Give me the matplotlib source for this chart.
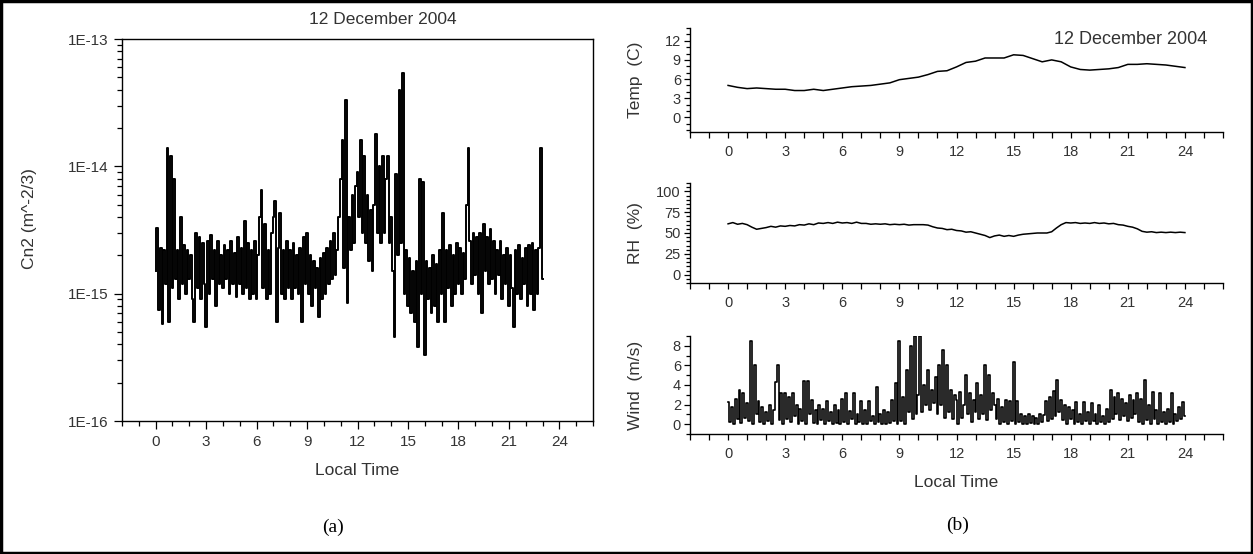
import matplotlib
matplotlib.use("Agg")
import matplotlib.pyplot as plt
import numpy as np
from matplotlib.ticker import MultipleLocator, FixedLocator, NullFormatter
from matplotlib.patches import Rectangle

plt.rcParams['font.family'] = ['Liberation Sans', 'DejaVu Sans']

# Cn2 (units of 1e-15 m^-2/3), every 0.1 h from 0 to 23 h
cn2 = [
    1.5, 3.3, 0.75, 2.3, 0.58, 2.2, 1.2, 14, 0.6, 12,
    1.1, 8.0, 1.3, 2.2, 0.9, 4.0, 1.2, 2.4, 1.0, 2.2,
    1.3, 2.0, 0.9, 0.6, 3.0, 1.1, 2.8, 0.9, 2.5, 1.2,
    0.55, 2.6, 1.0, 2.9, 1.3, 2.2, 0.8, 2.6, 1.2, 2.0,
    1.1, 2.4, 1.3, 2.2, 1.0, 2.6, 1.2, 2.1, 0.95, 2.8,
    1.2, 2.3, 1.0, 3.7, 1.1, 2.5, 0.9, 2.2, 1.0, 2.6,
    0.9, 2.0, 4.0, 6.5, 1.1, 3.5, 0.9, 2.2, 1.0, 3.0,
    4.0, 5.3, 0.6, 2.3, 4.3, 1.0, 2.2, 0.9, 2.6, 1.1,
    2.2, 0.9, 2.5, 1.1, 2.0, 1.0, 2.3, 0.6, 2.8, 1.2,
    3.0, 1.0, 2.0, 0.8, 1.8, 1.1, 1.6, 0.65, 1.9, 0.9,
    2.1, 1.0, 2.3, 1.2, 2.6, 1.3, 3.0, 1.4, 2.2, 4.0,
    8.0, 16, 1.6, 33, 0.85, 4.0, 2.2, 6.0, 2.5, 7.0,
    9.0, 4.0, 16, 3.0, 12, 2.5, 6.0, 1.8, 4.5, 1.5,
    5.0, 18, 3.0, 10, 2.5, 12, 3.0, 8.0, 12, 2.5,
    4.0, 1.5, 0.46, 8.7, 2.0, 40, 2.5, 54, 1.0, 2.2,
    0.8, 1.9, 0.7, 1.5, 0.6, 1.8, 0.38, 8.0, 1.0, 7.5,
    0.33, 1.8, 0.9, 1.6, 0.7, 2.0, 0.8, 1.7, 0.6, 2.2,
    1.0, 4.3, 0.6, 2.2, 1.1, 2.4, 0.8, 2.0, 1.0, 2.5,
    1.2, 2.3, 1.0, 2.1, 1.3, 5.0, 14, 2.6, 1.2, 3.0,
    1.4, 2.8, 1.0, 3.0, 0.7, 3.5, 1.5, 2.8, 1.2, 3.2,
    1.3, 2.6, 1.0, 2.2, 1.4, 2.6, 0.9, 2.0, 1.2, 2.3,
    0.8, 2.0, 1.1, 0.55, 2.2, 1.0, 2.4, 0.9, 1.9, 1.2,
    2.3, 0.8, 2.4, 1.0, 2.5, 0.75, 2.2, 1.0, 2.3, 14,
    1.3,
]

# temperature (C), every 0.5 h from 0 to 24 h
temp = [
    5.0, 4.7, 4.5, 4.6, 4.5, 4.4, 4.4, 4.2, 4.2, 4.4,
    4.2, 4.4, 4.6, 4.8, 4.9, 5.0, 5.2, 5.4, 5.9, 6.1,
    6.3, 6.7, 7.2, 7.3, 7.9, 8.6, 8.8, 9.3, 9.3, 9.3,
    9.8, 9.7, 9.2, 8.7, 9.0, 8.7, 7.9, 7.5, 7.4, 7.5,
    7.6, 7.8, 8.3, 8.3, 8.4, 8.3, 8.2, 8.0, 7.8,
]

# relative humidity (%), every 0.25 h from 0 to 24 h
rh = [
    61, 62.5, 60.5, 61.5, 60,
    57, 54.5, 55.5, 56.5, 58, 57, 58.5, 58,
    59, 58.5, 60, 59.5, 61, 60, 62, 61.5,
    62.5, 61.5, 63, 62, 62.5, 61.5, 63, 61.5,
    61.5, 60.5, 61, 60.5, 61, 60, 60.5, 60,
    60.5, 59.5, 60, 60, 60, 59.5, 57.5, 56,
    55.5, 54, 54.5, 53, 52.5, 51, 51.5, 50,
    48.5, 47, 44.5, 46.5, 47.5, 46, 47, 46,
    47.5, 48.5, 49, 49.5, 50, 50, 50, 51.5,
    56, 60, 62.5, 62, 62.5, 61.5, 62, 61.5,
    62.5, 61.5, 62, 61, 61.5, 60, 59.5, 58,
    57, 55, 52, 51, 51.5, 50.5, 51, 50.5,
    51, 50.5, 51, 50.5,
]

# wind speed (m/s), every 0.1 h from 0 to 24 h
wind = [
    2.3, 0.2, 1.8, 0.0, 2.6, 0.5, 3.5, 0.1, 3.2, 0.6,
    2.2, 0.3, 8.5, 0.0, 6.0, 1.0, 2.4, 0.2, 1.8, 0.0,
    1.2, 0.3, 2.0, 0.0, 1.5, 4.3, 6.0, 0.4, 3.2, 0.0,
    3.2, 0.5, 2.8, 0.2, 3.2, 0.8, 2.0, 0.0, 1.6, 0.3,
    4.4, 0.0, 4.4, 1.0, 2.5, 0.1, 1.5, 0.0, 2.0, 0.4,
    1.6, 0.0, 2.4, 0.3, 1.2, 0.0, 2.0, 0.1, 1.4, 0.0,
    2.6, 0.2, 3.2, 0.0, 1.3, 0.5, 3.2, 0.0, 1.0, 0.2,
    2.4, 0.0, 1.5, 0.0, 2.4, 0.3, 0.8, 0.0, 3.8, 0.2,
    1.0, 0.0, 1.5, 0.0, 1.2, 0.1, 2.5, 0.3, 4.2, 0.0,
    8.5, 0.3, 2.8, 0.0, 5.5, 1.2, 8.0, 0.5, 9.0, 1.0,
    3.0, 9.0, 1.2, 4.0, 2.0, 5.5, 1.5, 3.5, 2.2, 4.8,
    1.0, 6.0, 2.0, 7.6, 0.6, 6.0, 1.2, 3.5, 0.5, 3.0,
    2.5, 0.0, 3.3, 0.6, 2.0, 5.0, 1.0, 3.2, 0.2, 2.5,
    1.2, 4.2, 0.5, 3.0, 1.0, 6.0, 0.4, 5.0, 1.5, 3.2,
    2.0, 0.5, 2.6, 0.0, 1.8, 0.2, 2.5, 0.0, 2.4, 0.3,
    6.3, 0.0, 2.4, 0.2, 1.0, 0.0, 0.8, 0.0, 1.0, 0.1,
    0.8, 0.0, 0.6, 0.0, 1.0, 0.2, 0.9, 2.4, 0.3, 2.8,
    0.5, 3.4, 0.8, 4.5, 1.2, 2.5, 0.4, 2.0, 0.0, 1.8,
    0.5, 1.5, 0.0, 2.3, 0.2, 1.0, 0.0, 2.3, 0.3, 1.2,
    0.0, 2.2, 0.3, 1.0, 0.0, 2.0, 0.2, 0.8, 0.0, 1.6,
    0.2, 3.5, 0.5, 2.8, 1.0, 3.2, 0.4, 2.6, 0.8, 2.2,
    0.3, 3.0, 0.6, 2.5, 1.0, 3.2, 0.2, 2.6, 0.0, 4.5,
    0.4, 2.0, 0.0, 3.3, 0.5, 1.5, 0.0, 3.2, 0.2, 1.2,
    0.0, 1.6, 0.2, 3.2, 0.0, 1.0, 0.3, 1.8, 0.5, 2.3,
    0.8,
]

hour_ticks = [0, 3, 6, 9, 12, 15, 18, 21, 24]
cn2_ticks = [1e-16, 1e-15, 1e-14, 1e-13]
cn2_labels = ['1E-16', '1E-15', '1E-14', '1E-13']
title = '12 December 2004'
txt = '#333333'

W, H = 1253, 554
fig = plt.figure(figsize=(W / 100, H / 100), dpi=100)

def box(l, t, r, b):
    return [l / W, 1 - b / H, (r - l) / W, (b - t) / H]

# ---- (a) Cn2 ----
ax = fig.add_axes(box(122, 39, 593, 421))
t_cn2 = np.linspace(0, 23, len(cn2))
ax.plot(t_cn2, np.array(cn2) * 1e-15, color='black', lw=1.4, drawstyle='steps-mid')
ax.set_yscale('log')
ax.set_ylim(1e-16, 1e-13)
ax.set_xlim(-2, 26)
ax.set_xticks(hour_ticks)
ax.xaxis.set_minor_locator(MultipleLocator(1))
ax.set_yticks(cn2_ticks)
ax.set_yticklabels(cn2_labels)
minor = [m * d for d in cn2_ticks[:-1] for m in range(2, 10)]
ax.yaxis.set_minor_locator(FixedLocator(minor))
ax.yaxis.set_minor_formatter(NullFormatter())
ax.tick_params(which='both', direction='out', top=False, right=False,
               labelsize=11, labelcolor=txt, width=0.9)
ax.tick_params(which='major', length=6, pad=4)
ax.tick_params(which='minor', length=3.5)
for s in ax.spines.values():
    s.set_linewidth(1.0)
ax.set_ylabel('Cn2 (m^-2/3)', fontsize=12.5, color=txt)
ax.yaxis.set_label_coords(-0.18, 0.53)
ax.set_xlabel('Local Time', fontsize=12.5, color=txt)
ax.xaxis.set_label_coords(0.5, -0.11)
fig.text(383 / W, 1 - 20 / H, title, ha='center', va='center', fontsize=12.5, color=txt)
fig.text(333 / W, 1 - 527 / H, '(a)', ha='center', va='center', fontsize=14,
         family=['Liberation Serif'])

# ---- (b) weather ----
panels = [
    (box(690, 28, 1223, 132), temp, 'Temp  (C)', (-2.3, 14), [0, 3, 6, 9, 12], 1, 1.1, 'default'),
    (box(690, 183, 1223, 283), rh, 'RH  (%)', (-10, 110), [0, 25, 50, 75, 100], 5, 1.1, 'default'),
    (box(690, 336, 1223, 434), wind, 'Wind  (m/s)', (-1, 9), [0, 2, 4, 6, 8], 1, 1.2, 'steps-mid'),
]
axes_b = []
for rect, vals, lab, ylim, yt, minor_step, lw, ds in panels:
    a = fig.add_axes(rect)
    tv = np.linspace(0, 24, len(vals))
    a.plot(tv, vals, color='black', lw=lw, drawstyle=ds)
    a.set_xlim(-2, 26)
    a.set_ylim(*ylim)
    a.set_xticks(hour_ticks)
    a.xaxis.set_minor_locator(MultipleLocator(1))
    a.set_yticks(yt)
    a.yaxis.set_minor_locator(MultipleLocator(minor_step))
    a.spines['top'].set_visible(False)
    a.spines['right'].set_visible(False)
    for s in ('left', 'bottom'):
        a.spines[s].set_linewidth(1.0)
    a.tick_params(which='both', direction='out', labelsize=10.5, labelcolor=txt, width=0.9)
    a.tick_params(which='major', length=4.5)
    a.tick_params(which='minor', length=3)
    a.tick_params(axis='x', which='minor', length=4.5)
    a.tick_params(axis='x', pad=5)
    a.tick_params(axis='y', pad=2)
    a.set_ylabel(lab, fontsize=12.5, color=txt)
    a.yaxis.set_label_coords(-0.088, 0.5)
    axes_b.append(a)

axes_b[-1].set_xlabel('Local Time', fontsize=12.5, color=txt)
axes_b[-1].xaxis.set_label_coords(0.5, -0.42)
fig.text(1207 / W, 1 - 40 / H, title, ha='right', va='center', fontsize=13, color=txt)
fig.text(958 / W, 1 - 525 / H, '(b)', ha='center', va='center', fontsize=14,
         family=['Liberation Serif'])

# outer frame
fig.patches.append(Rectangle((0.001, 0.002), 0.998, 0.996, transform=fig.transFigure,
                             fill=False, edgecolor='black', lw=2.5))

fig.savefig('out.png', dpi=100)
